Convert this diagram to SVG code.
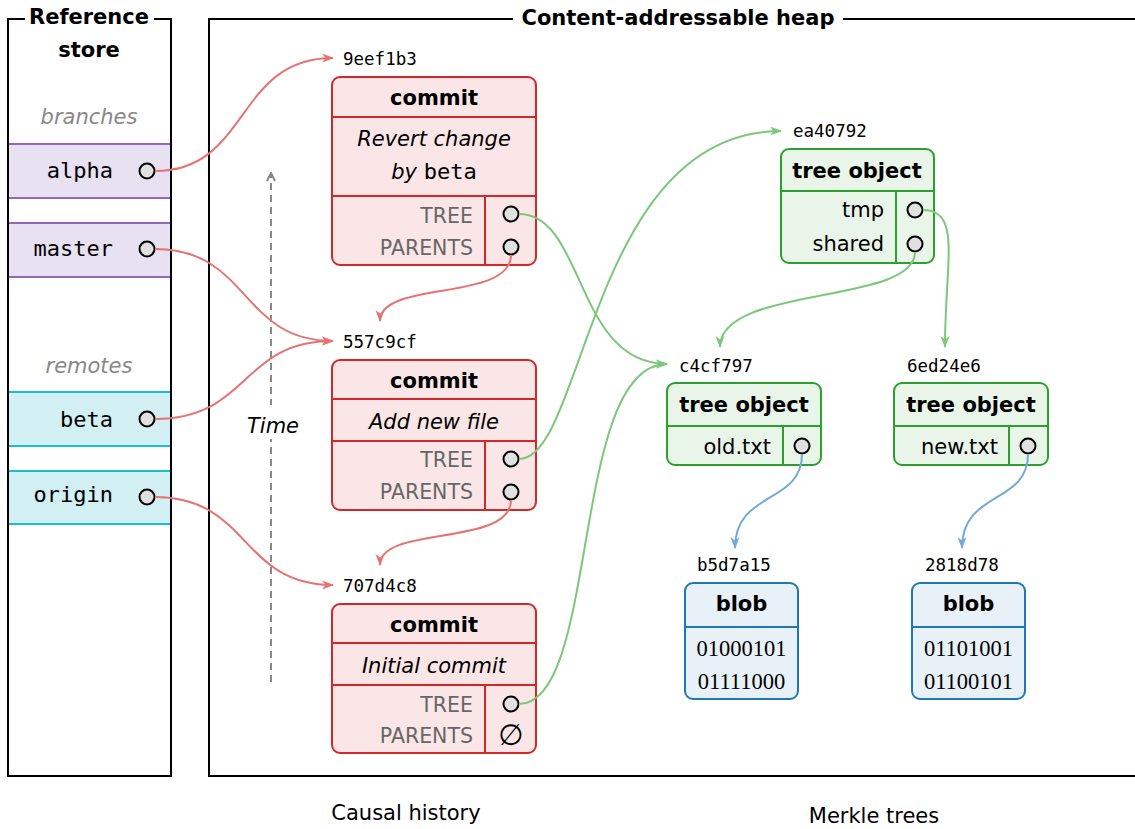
<svg xmlns="http://www.w3.org/2000/svg" width="1135" height="829" viewBox="0 0 1135 829">
  <style>
    .frame { fill: none; stroke: #000; stroke-width: 2; }
    .title { font-family: "DejaVu Sans", sans-serif; font-weight: bold; font-size: 21px; fill: #000; }
    .group { font-family: "DejaVu Sans", sans-serif; font-style: italic; font-size: 21px; fill: #888; }
    .ref { font-family: "DejaVu Sans Mono", monospace; font-size: 22px; fill: #000; }
    .hash { font-family: "DejaVu Sans Mono", monospace; font-size: 17.5px; fill: #000; }
    .head { font-family: "DejaVu Sans", sans-serif; font-weight: bold; font-size: 21px; fill: #000; text-anchor: middle; }
    .msg { font-family: "DejaVu Sans", sans-serif; font-style: italic; font-size: 21px; fill: #000; text-anchor: middle; }
    .field { font-family: "DejaVu Sans", sans-serif; font-size: 20.5px; fill: #666; text-anchor: end; }
    .entry { font-family: "DejaVu Sans", sans-serif; font-size: 21px; fill: #000; text-anchor: end; }
    .bits { font-family: "Liberation Serif", serif; font-size: 22.5px; fill: #000; text-anchor: middle; }
    .caption { font-family: "DejaVu Sans", sans-serif; font-size: 21px; fill: #000; text-anchor: middle; }
    .port { fill: #e0e0e0; stroke: #000; stroke-width: 2; }
    .commit { fill: #fae6e6; stroke: #d62728; stroke-width: 2; }
    .commit-line { stroke: #d62728; stroke-width: 2; }
    .tree { fill: #e9f5e9; stroke: #2ca02c; stroke-width: 2; }
    .tree-line { stroke: #2ca02c; stroke-width: 2; }
    .blob { fill: #e8f0f8; stroke: #1f77b4; stroke-width: 2; }
    .blob-line { stroke: #1f77b4; stroke-width: 2; }
    .branch { fill: #e8e1f1; }
    .branch-line { stroke: #9467bd; stroke-width: 2; }
    .remote { fill: #d2f0f3; }
    .remote-line { stroke: #17becf; stroke-width: 2; }
    .link-red { fill: none; stroke: #e57373; stroke-width: 2; marker-end: url(#arrow-red); }
    .link-green { fill: none; stroke: #7cc77c; stroke-width: 2; marker-end: url(#arrow-green); }
    .link-blue { fill: none; stroke: #74a9d8; stroke-width: 2; marker-end: url(#arrow-blue); }
  </style>
  <defs>
    <marker id="arrow-red" viewBox="0 0 12 10" refX="11" refY="5" markerWidth="12" markerHeight="10" markerUnits="userSpaceOnUse" orient="auto">
      <path d="M0,0.5 L12,5 L0,9.5 L3.5,5 Z" fill="#e57373"/>
    </marker>
    <marker id="arrow-green" viewBox="0 0 12 10" refX="11" refY="5" markerWidth="12" markerHeight="10" markerUnits="userSpaceOnUse" orient="auto">
      <path d="M0,0.5 L12,5 L0,9.5 L3.5,5 Z" fill="#7cc77c"/>
    </marker>
    <marker id="arrow-blue" viewBox="0 0 12 10" refX="11" refY="5" markerWidth="12" markerHeight="10" markerUnits="userSpaceOnUse" orient="auto">
      <path d="M0,0.5 L12,5 L0,9.5 L3.5,5 Z" fill="#74a9d8"/>
    </marker>
    <marker id="arrow-time" viewBox="0 0 10 10" refX="9" refY="5" markerWidth="10" markerHeight="10" markerUnits="userSpaceOnUse" orient="auto">
      <path d="M1,1 L9,5 L1,9" fill="none" stroke="#888" stroke-width="2"/>
    </marker>
  </defs>

  <rect width="1135" height="829" fill="#fff"/>

  <!-- Reference store frame -->
  <g id="reference-store">
    <path class="frame" d="M25,19 H8 V776 H171 V19 H154"/>
    <text class="title" x="89" y="24" text-anchor="middle">Reference</text>
    <text class="title" x="89" y="57" text-anchor="middle">store</text>
    <text class="group" x="89" y="124" text-anchor="middle">branches</text>
    <text class="group" x="89" y="373" text-anchor="middle">remotes</text>
  </g>

  <g id="branch-alpha">
    <rect class="branch" x="9" y="144" width="161" height="54"/>
    <line class="branch-line" x1="9" y1="144" x2="170" y2="144"/>
    <line class="branch-line" x1="9" y1="198" x2="170" y2="198"/>
    <text class="ref" x="113" y="178" text-anchor="end">alpha</text>
    <circle class="port" cx="147" cy="171" r="7.5"/>
  </g>
  <g id="branch-master">
    <rect class="branch" x="9" y="223" width="161" height="54"/>
    <line class="branch-line" x1="9" y1="223" x2="170" y2="223"/>
    <line class="branch-line" x1="9" y1="277" x2="170" y2="277"/>
    <text class="ref" x="113" y="256" text-anchor="end">master</text>
    <circle class="port" cx="147" cy="249" r="7.5"/>
  </g>
  <g id="remote-beta">
    <rect class="remote" x="9" y="392" width="161" height="54"/>
    <line class="remote-line" x1="9" y1="392" x2="170" y2="392"/>
    <line class="remote-line" x1="9" y1="446" x2="170" y2="446"/>
    <text class="ref" x="113" y="427" text-anchor="end">beta</text>
    <circle class="port" cx="147" cy="419" r="7.5"/>
  </g>
  <g id="remote-origin">
    <rect class="remote" x="9" y="471" width="161" height="53"/>
    <line class="remote-line" x1="9" y1="471" x2="170" y2="471"/>
    <line class="remote-line" x1="9" y1="524" x2="170" y2="524"/>
    <text class="ref" x="113" y="502" text-anchor="end">origin</text>
    <circle class="port" cx="147" cy="497" r="7.5"/>
  </g>

  <!-- Heap frame -->
  <g id="heap">
    <path class="frame" d="M513,19 H209 V776 H1136 M843,19 H1136"/>
    <text class="title" x="678" y="25" text-anchor="middle">Content-addressable heap</text>
  </g>

  <!-- Time axis -->
  <g id="time-axis">
    <line x1="271" y1="682" x2="271" y2="173" stroke="#888" stroke-width="2" stroke-dasharray="7,5" marker-end="url(#arrow-time)"/>
    <rect x="244" y="405" width="56" height="34" fill="#fff"/>
    <text x="273" y="433" font-family="DejaVu Sans, sans-serif" font-style="italic" font-size="21" text-anchor="middle">Time</text>
  </g>

  <!-- Commits -->
  <g id="commit-9eef1b3">
    <text class="hash" x="343" y="65">9eef1b3</text>
    <rect class="commit" x="332" y="77" width="204" height="188" rx="8"/>
    <line class="commit-line" x1="332" y1="117" x2="536" y2="117"/>
    <line class="commit-line" x1="332" y1="196" x2="536" y2="196"/>
    <line class="commit-line" x1="485" y1="196" x2="485" y2="265"/>
    <text class="head" x="434" y="105">commit</text>
    <text class="msg" x="434" y="146">Revert change</text>
    <text class="msg" x="434" y="179">by <tspan font-family="DejaVu Sans Mono, monospace" font-style="normal" font-size="22">beta</tspan></text>
    <text class="field" x="473" y="223">TREE</text>
    <text class="field" x="473" y="255">PARENTS</text>
    <circle class="port" cx="511" cy="214" r="7.5"/>
    <circle class="port" cx="511" cy="247" r="7.5"/>
  </g>

  <g id="commit-557c9cf">
    <text class="hash" x="343" y="348">557c9cf</text>
    <rect class="commit" x="332" y="360" width="204" height="150" rx="8"/>
    <line class="commit-line" x1="332" y1="399" x2="536" y2="399"/>
    <line class="commit-line" x1="332" y1="441" x2="536" y2="441"/>
    <line class="commit-line" x1="485" y1="441" x2="485" y2="510"/>
    <text class="head" x="434" y="388">commit</text>
    <text class="msg" x="434" y="429">Add new file</text>
    <text class="field" x="473" y="467">TREE</text>
    <text class="field" x="473" y="499">PARENTS</text>
    <circle class="port" cx="511" cy="459" r="7.5"/>
    <circle class="port" cx="511" cy="492" r="7.5"/>
  </g>

  <g id="commit-707d4c8">
    <text class="hash" x="343" y="592">707d4c8</text>
    <rect class="commit" x="332" y="604" width="204" height="149" rx="8"/>
    <line class="commit-line" x1="332" y1="643" x2="536" y2="643"/>
    <line class="commit-line" x1="332" y1="685" x2="536" y2="685"/>
    <line class="commit-line" x1="485" y1="685" x2="485" y2="753"/>
    <text class="head" x="434" y="632">commit</text>
    <text class="msg" x="434" y="673">Initial commit</text>
    <text class="field" x="473" y="712">TREE</text>
    <text class="field" x="473" y="743">PARENTS</text>
    <circle class="port" cx="511" cy="704" r="7.5"/>
    <text x="511" y="745" font-family="DejaVu Sans, sans-serif" font-size="29" text-anchor="middle">∅</text>
  </g>

  <!-- Tree objects -->
  <g id="tree-ea40792">
    <text class="hash" x="793" y="137">ea40792</text>
    <rect class="tree" x="781" y="149" width="153" height="114" rx="8"/>
    <line class="tree-line" x1="781" y1="191" x2="934" y2="191"/>
    <line class="tree-line" x1="896" y1="191" x2="896" y2="263"/>
    <text class="head" x="857" y="178">tree object</text>
    <text class="entry" x="884" y="217">tmp</text>
    <text class="entry" x="884" y="251">shared</text>
    <circle class="port" cx="915" cy="210" r="7.5"/>
    <circle class="port" cx="915" cy="244" r="7.5"/>
  </g>

  <g id="tree-c4cf797">
    <text class="hash" x="679" y="372">c4cf797</text>
    <rect class="tree" x="667" y="383" width="154" height="82" rx="8"/>
    <line class="tree-line" x1="667" y1="426" x2="821" y2="426"/>
    <line class="tree-line" x1="783" y1="426" x2="783" y2="465"/>
    <text class="head" x="744" y="412">tree object</text>
    <text class="entry" x="771" y="454">old.txt</text>
    <circle class="port" cx="802" cy="446" r="7.5"/>
  </g>

  <g id="tree-6ed24e6">
    <text class="hash" x="907" y="372">6ed24e6</text>
    <rect class="tree" x="894" y="383" width="154" height="82" rx="8"/>
    <line class="tree-line" x1="894" y1="426" x2="1048" y2="426"/>
    <line class="tree-line" x1="1009" y1="426" x2="1009" y2="465"/>
    <text class="head" x="971" y="412">tree object</text>
    <text class="entry" x="998" y="454">new.txt</text>
    <circle class="port" cx="1028" cy="446" r="7.5"/>
  </g>

  <!-- Blobs -->
  <g id="blob-b5d7a15">
    <text class="hash" x="697" y="571">b5d7a15</text>
    <rect class="blob" x="685" y="583" width="113" height="116" rx="8"/>
    <line class="blob-line" x1="685" y1="627" x2="798" y2="627"/>
    <text class="head" x="741.5" y="611">blob</text>
    <text class="bits" x="741.5" y="656">01000101</text>
    <text class="bits" x="741.5" y="689">01111000</text>
  </g>

  <g id="blob-2818d78">
    <text class="hash" x="925" y="571">2818d78</text>
    <rect class="blob" x="912" y="583" width="113" height="116" rx="8"/>
    <line class="blob-line" x1="912" y1="627" x2="1025" y2="627"/>
    <text class="head" x="968.5" y="611">blob</text>
    <text class="bits" x="968.5" y="656">01101001</text>
    <text class="bits" x="968.5" y="689">01100101</text>
  </g>

  <!-- Connectors -->
  <g id="connectors">
    <path class="link-red" d="M155,171 C250,171 235,58 333,58"/>
    <path class="link-red" d="M155,249 C250,249 240,341 333,341"/>
    <path class="link-red" d="M155,419 C250,419 240,341 333,341"/>
    <path class="link-red" d="M155,497 C250,497 240,585 333,585"/>
    <path class="link-red" d="M511,255 C511,302 380,280 380,321"/>
    <path class="link-red" d="M511,500 C511,547 380,525 380,565"/>
    <path class="link-green" d="M519,214 C585,214 575,364 667,364"/>
    <path class="link-green" d="M519,459 C585,459 590,131 781,131"/>
    <path class="link-green" d="M519,704 C600,704 570,364 667,364"/>
    <path class="link-green" d="M915,252 C915,305 720,285 720,347"/>
    <path class="link-green" d="M923,210 C962,210 945,262 945,347"/>
    <path class="link-blue" d="M802,454 C802,505 735,490 735,548"/>
    <path class="link-blue" d="M1028,454 C1028,505 962,490 962,548"/>
  </g>

  <!-- Captions -->
  <text class="caption" x="406" y="820">Causal history</text>
  <text class="caption" x="874" y="823">Merkle trees</text>
</svg>
